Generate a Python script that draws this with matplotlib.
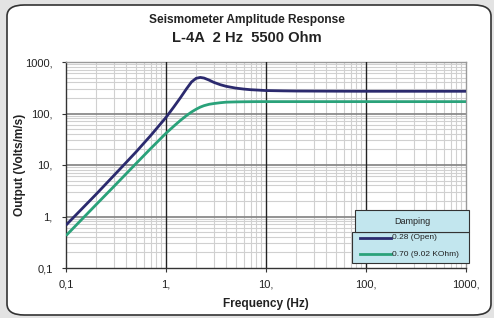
import matplotlib
matplotlib.use("Agg")
import matplotlib.pyplot as plt
from matplotlib.patches import FancyBboxPatch, Rectangle
from matplotlib.ticker import LogLocator, FixedLocator, NullFormatter

plt.rcParams['font.family'] = ['Liberation Sans', 'DejaVu Sans']

title1 = "Seismometer Amplitude Response"
title2 = "L-4A  2 Hz  5500 Ohm"
xlabel = "Frequency (Hz)"
ylabel = "Output (Volts/m/s)"
legend_title = "Damping"
series_names = ["0.28 (Open)", "0.70 (9.02 KOhm)"]
series_colors = ["#2b2a6e", "#2aa27a"]

freq = [0.1, 0.2, 0.3, 0.5, 0.7, 1.0, 1.2, 1.4, 1.6, 1.8, 2.0, 2.2, 2.4, 2.7,
        3.0, 3.5, 4.0, 5.0, 6.0, 7.0, 8.5, 10.0, 15.0, 20.0, 50.0, 100.0, 1000.0]
open_resp = [0.68, 2.7, 6.2, 17.8, 37, 84, 135, 205, 300, 410, 482, 502, 488, 445,
             403, 362, 337, 311, 298, 290, 284, 279, 275, 273, 271, 270, 270]
damped_resp = [0.425, 1.7, 3.8, 10.6, 20.7, 41.4, 57, 74, 91, 107, 121, 133, 142, 151,
               156, 162, 166, 168, 169, 169.5, 170, 170, 170, 170, 170, 170, 170]

xticks = [0.1, 1, 10, 100, 1000]
xticklabels = ["0,1", "1,", "10,", "100,", "1000,"]
yticks = [0.1, 1, 10, 100, 1000]
yticklabels = ["0,1", "1,", "10,", "100,", "1000,"]

W, H = 494, 318
fig = plt.figure(figsize=(W / 100, H / 100), dpi=100)
fig.patch.set_facecolor("#e3e3e3")

panel = FancyBboxPatch((7 / W, 3 / H), 484 / W, 310 / H,
                       boxstyle="round,pad=0,rounding_size=0.035",
                       transform=fig.transFigure, facecolor="white",
                       edgecolor="#333333", linewidth=1.2, zorder=-10)
fig.patches.append(panel)

ax = fig.add_axes([66 / W, 1 - 268 / H, 400 / W, 206 / H])
ax.set_zorder(1)
ax.patch.set_alpha(0)
ax.set_xscale("log")
ax.set_yscale("log")
ax.set_xlim(0.1, 1000)
ax.set_ylim(0.1, 1000)

ax.plot(freq, open_resp, color=series_colors[0], lw=2.0, zorder=5, solid_capstyle="butt")
ax.plot(freq, damped_resp, color=series_colors[1], lw=2.0, zorder=5, solid_capstyle="butt")

ax.xaxis.set_major_locator(FixedLocator(xticks))
ax.yaxis.set_major_locator(FixedLocator(yticks))
ax.set_xticklabels(xticklabels)
ax.set_yticklabels(yticklabels)
ax.xaxis.set_minor_locator(LogLocator(base=10, subs=range(2, 10), numticks=20))
ax.yaxis.set_minor_locator(LogLocator(base=10, subs=range(2, 10), numticks=20))
ax.xaxis.set_minor_formatter(NullFormatter())
ax.yaxis.set_minor_formatter(NullFormatter())

ax.tick_params(which="major", length=3, width=0.8, color="#333333", labelsize=8, labelcolor="#222222")
ax.tick_params(axis="x", which="major", pad=5)
ax.tick_params(axis="y", which="major", pad=6.5)
ax.tick_params(which="minor", length=0)

ax.grid(which="minor", axis="both", color="#d0d0d0", lw=0.8, zorder=1)
ax.set_axisbelow(True)
for yv in yticks[1:-1]:
    ax.axhline(yv, color="#8a8a8a", lw=1.3, zorder=2)
for xv in xticks[1:-1]:
    ax.axvline(xv, color="#222222", lw=1.0, zorder=3)

for s in ["left", "bottom"]:
    ax.spines[s].set_color("#333333")
    ax.spines[s].set_linewidth(1.0)
for s in ["top", "right"]:
    ax.spines[s].set_color("#999999")
    ax.spines[s].set_linewidth(1.0)

ax.set_xlabel(xlabel, fontsize=8.6, fontweight="bold", color="#222222", va="center")
ax.xaxis.set_label_coords(0.5, -(304 - 268) / 206)
ax.set_ylabel(ylabel, fontsize=8.6, fontweight="bold", color="#222222", va="center")
ax.yaxis.set_label_coords(-(66 - 20) / 400, 0.5)

fig.text(0.5, 1 - 20 / H, title1, ha="center", va="center", fontsize=8.6, fontweight="bold", color="#222222")
fig.text(0.5, 1 - 38 / H, title2, ha="center", va="center", fontsize=10.6, fontweight="bold", color="#222222")

# legend
lc = "#c2e6ee"
ent = Rectangle((352 / W, 1 - 263 / H), 117 / W, 31 / H, transform=fig.transFigure,
                facecolor=lc, edgecolor="#333333", lw=0.8, zorder=10)
ttl = Rectangle((355 / W, 1 - 232 / H), 114 / W, 22 / H, transform=fig.transFigure,
                facecolor=lc, edgecolor="#333333", lw=0.8, zorder=11)
fig.patches.extend([ent, ttl])
fig.text(412 / W, 1 - 221 / H, legend_title, ha="center", va="center", fontsize=6.5, color="#222222", zorder=12)
for i, (name, col) in enumerate(zip(series_names, series_colors)):
    yy = 1 - (237.5 + i * 16.5) / H
    fig.add_artist(plt.Line2D([360 / W, 391 / W], [yy, yy], transform=fig.transFigure,
                              color=col, lw=2.0, zorder=12))
    fig.text(392 / W, yy, name, ha="left", va="center", fontsize=6, color="#222222", zorder=12)

fig.savefig("out.png", dpi=100)
